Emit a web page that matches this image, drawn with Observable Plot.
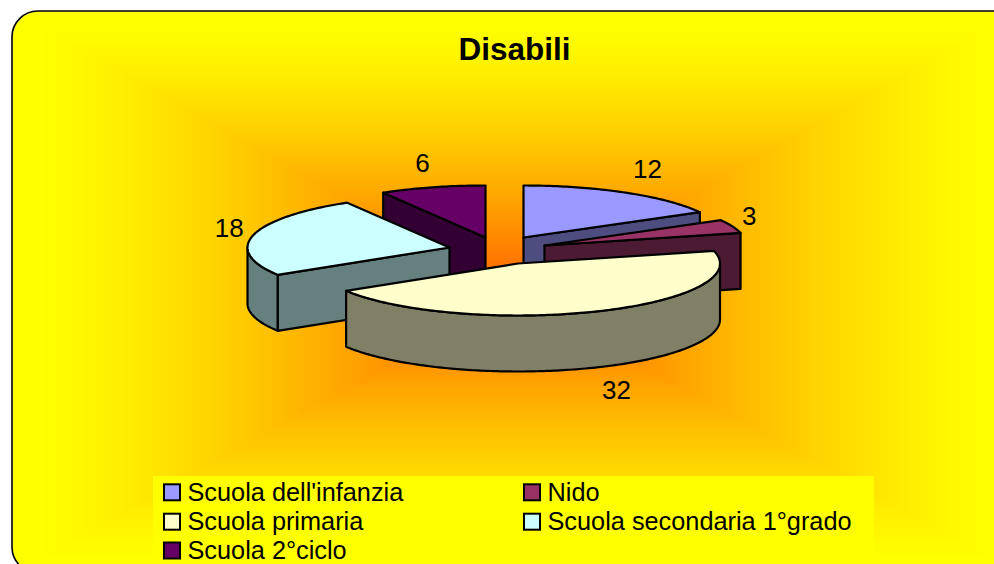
<!DOCTYPE html>
<html><head><meta charset="utf-8">
<script src="https://cdn.jsdelivr.net/npm/d3@7"></script>
<script src="https://cdn.jsdelivr.net/npm/@observablehq/plot@0.6"></script>
<style>html,body{margin:0;padding:0;background:#fff}svg{display:block}</style>
</head><body><div id="chart"></div>
<script>
const title = "Disabili";
const categories = ["Scuola dell'infanzia","Nido","Scuola primaria","Scuola secondaria 1°grado","Scuola 2°ciclo"];
const values = [12,3,32,18,6];
const topColors = ["#9999FF","#993366","#FFFFCC","#CCFFFF","#660066"];
const wallColors = ["#4D4D80","#4D1A33","#808066","#668080","#330033"];

// projection layout of the exploded 3-D pie
const centerX = [523,544,517.5,449,485];
const centerY = [237,245,263,247,237];
const labelRx = [245,220,254,227,240];
const labelRy = [79,79,77,78,76];
const RX = 202, RY = 52, DEPTH = 56;
const W = 994, H = 564;
const drawOrder = [4,0,1,3,2];

const total = d3.sum(values);
const arcs = [];
let acc = 0;
values.forEach((v,i)=>{arcs.push({a0:acc/total*2*Math.PI,a1:(acc+v)/total*2*Math.PI});acc+=v;});
const pt=(i,a,d=0)=>({x:centerX[i]+RX*Math.sin(a),y:centerY[i]-RY*Math.cos(a)+d});
const arcPts=(i,a0,a1,d=0)=>{const n=Math.max(2,Math.ceil((a1-a0)*60));return d3.range(n+1).map(k=>pt(i,a0+(a1-a0)*k/n,d));};
const apex=(i,d=0)=>({x:centerX[i],y:centerY[i]+d});
const closed=p=>[...p,p[0]];

const faces=[];
for(const i of drawOrder){
  const {a0,a1}=arcs[i];
  // radial side walls that face the viewer
  for(const a of [a0,a1]){
    if((a===a0&&Math.sin(a)<0)||(a===a1&&Math.sin(a)>1e-6))
      faces.push({pts:closed([apex(i),pt(i,a),pt(i,a,DEPTH),apex(i,DEPTH)]),fill:wallColors[i]});
  }
  // outer wall on the front half
  const f0=Math.max(a0,Math.PI/2),f1=Math.min(a1,Math.PI*1.5);
  if(f1>f0) faces.push({pts:closed([...arcPts(i,f0,f1),...arcPts(i,f0,f1,DEPTH).reverse()]),fill:wallColors[i]});
  // top face
  faces.push({pts:closed([apex(i),...arcPts(i,a0,a1)]),fill:topColors[i]});
}

// chart-area gradient: rectangular path fill, yellow edge to orange centre
const box={x1:12,y1:11,x2:1018,y2:573,r:26};
const cx=(box.x1+box.x2)/2, cy=(box.y1+box.y2)/2;
const bgFill=(x,y)=>{
  const qx=Math.abs(x-cx)-((box.x2-box.x1)/2-box.r), qy=Math.abs(y-cy)-((box.y2-box.y1)/2-box.r);
  const out=Math.hypot(Math.max(qx,0),Math.max(qy,0))+Math.min(Math.max(qx,qy),0)-box.r;
  if(out>0) return "#ffffff";
  const t=Math.max(Math.abs(x-cx)/((box.x2-box.x1)/2),Math.abs(y-cy)/((box.y2-box.y1)/2));
  const u=Math.max(0,1-t/0.95);
  const g=Math.round(96+159*(1-Math.pow(u,1.3)));
  return `rgb(255,${g},0)`;
};

const legendRows=categories.map((name,i)=>({name,color:topColors[i],col:i%2,row:Math.floor(i/2)}));
const legX=[172,532], legY=[492.3,521.7,550.5];

const labels=values.map((v,i)=>{
  const m=(arcs[i].a0+arcs[i].a1)/2;
  const front=Math.cos(m)<0;
  return {v,x:centerX[i]+labelRx[i]*Math.sin(m),y:centerY[i]-labelRy[i]*Math.cos(m)+(front?DEPTH:0)};
});

const plot=Plot.plot({
  width:W,height:H,margin:0,
  style:{background:"#fff",fontFamily:"'Liberation Sans',Arial,sans-serif"},
  x:{domain:[0,W],range:[0,W],axis:null},
  y:{domain:[0,H],range:[0,H],axis:null},
  color:{type:"identity"},
  marks:[
    Plot.raster({fill:bgFill,x1:0,x2:W,y1:0,y2:H,pixelSize:1,imageRendering:"auto"}),
    Plot.rect([box],{x1:"x1",x2:"x2",y1:"y1",y2:"y2",rx:box.r,fill:"none",stroke:"#000",strokeWidth:1.6}),
    Plot.rect([{x1:153,x2:874,y1:476,y2:H}],{x1:"x1",x2:"x2",y1:"y1",y2:"y2",fill:"#FFFF00"}),
    ...faces.map(f=>Plot.line(f.pts,{x:"x",y:"y",fill:f.fill,stroke:"#000",strokeWidth:2.2,strokeLinejoin:"round",curve:"linear"})),
    Plot.text(labels,{x:"x",y:"y",text:d=>String(d.v),fontSize:26,fill:"#000"}),
    Plot.text([title],{x:()=>514,y:()=>49,text:d=>d,fontSize:31.5,fontWeight:"bold",fill:"#000"}),
    Plot.rect(legendRows,{x1:d=>legX[d.col]-8,x2:d=>legX[d.col]+8,y1:d=>legY[d.row]-8,y2:d=>legY[d.row]+8,fill:"color",stroke:"#000",strokeWidth:2}),
    Plot.text(legendRows,{x:d=>legX[d.col]+15,y:d=>legY[d.row],text:"name",textAnchor:"start",fontSize:25.3,fill:"#000"})
  ]
});
document.getElementById("chart").append(plot);
</script></body></html>
